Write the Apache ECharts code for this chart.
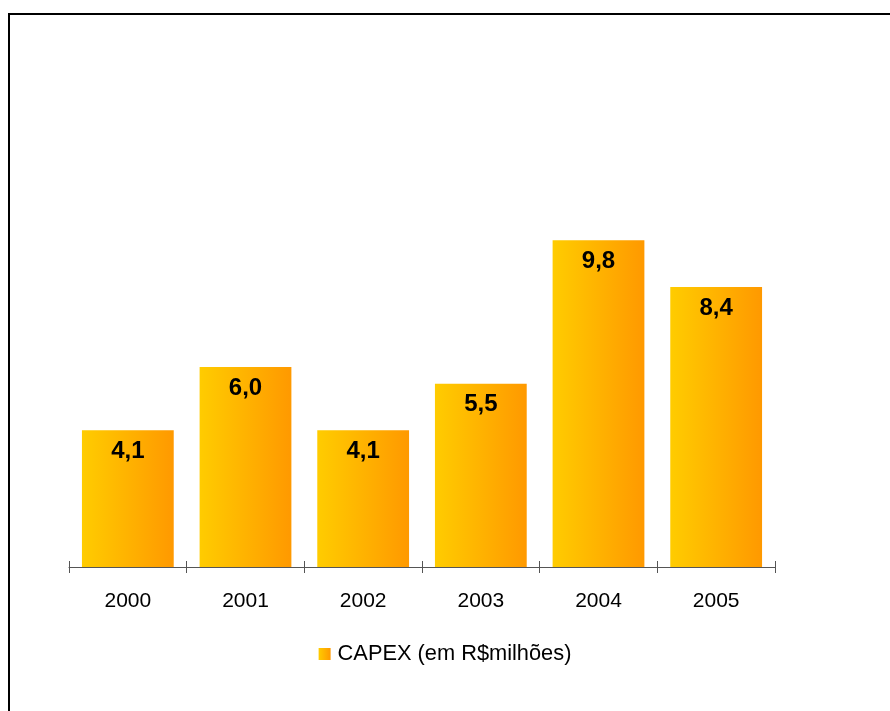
<!DOCTYPE html>
<html>
<head>
<meta charset="utf-8">
<script src="https://cdn.jsdelivr.net/npm/echarts@6/dist/echarts.min.js"></script>
<style>
  html, body { margin: 0; padding: 0; background: #fff; }
  #frame { position: absolute; left: 8px; top: 13px; width: 900px; height: 720px;
           border-left: 2px solid #000; border-top: 2px solid #000; box-sizing: border-box; }
  #chart { position: absolute; left: 0; top: 0; width: 890px; height: 711px; }
</style>
</head>
<body>
<div id="frame"></div>
<div id="chart"></div>
<script>
// CAPEX per year, R$ millions
const years = ['2000', '2001', '2002', '2003', '2004', '2005'];
const capex = [4.1, 6.0, 4.1, 5.5, 9.8, 8.4];
const seriesName = 'CAPEX (em R$milhões)';

const chart = echarts.init(document.getElementById('chart'));
const barFill = new echarts.graphic.LinearGradient(0, 0, 1, 0, [
  { offset: 0, color: '#FFCC00' },
  { offset: 1, color: '#FF9900' }
]);

chart.setOption({
  animation: false,
  grid: { left: 69, right: 115, top: 167, bottom: 144 },
  legend: {
    data: [seriesName],
    left: 'center',
    top: 638,
    itemWidth: 12,
    itemHeight: 12,
    itemGap: 6,
    icon: 'rect',
    textStyle: { fontFamily: 'Liberation Sans, Arial, sans-serif', fontSize: 21.8, color: '#000', padding: [0, 0, 0, 2] }
  },
  xAxis: [
    {
      type: 'category',
      data: years,
      axisLine: { lineStyle: { color: '#555', width: 1 } },
      axisTick: { show: true, length: 6, lineStyle: { color: '#555' } },
      axisLabel: { margin: 24, fontFamily: 'Liberation Sans, Arial, sans-serif', fontSize: 21, color: '#000' }
    },
    {
      type: 'category',
      data: years,
      position: 'bottom',
      axisLine: { show: false },
      axisTick: { show: true, inside: true, length: 6, lineStyle: { color: '#555' } },
      axisLabel: { show: false }
    }
  ],
  yAxis: {
    type: 'value',
    min: 0,
    max: 12,
    show: false,
    splitLine: { show: false }
  },
  series: [{
    name: seriesName,
    type: 'bar',
    data: capex,
    barWidth: '78%',
    itemStyle: { color: barFill },
    label: {
      show: true,
      position: 'insideTop',
      distance: 9,
      fontFamily: 'Liberation Sans, Arial, sans-serif',
      fontSize: 24,
      fontWeight: 'bold',
      color: '#000',
      formatter: p => p.value.toFixed(1).replace('.', ',')
    }
  }]
});
</script>
</body>
</html>
